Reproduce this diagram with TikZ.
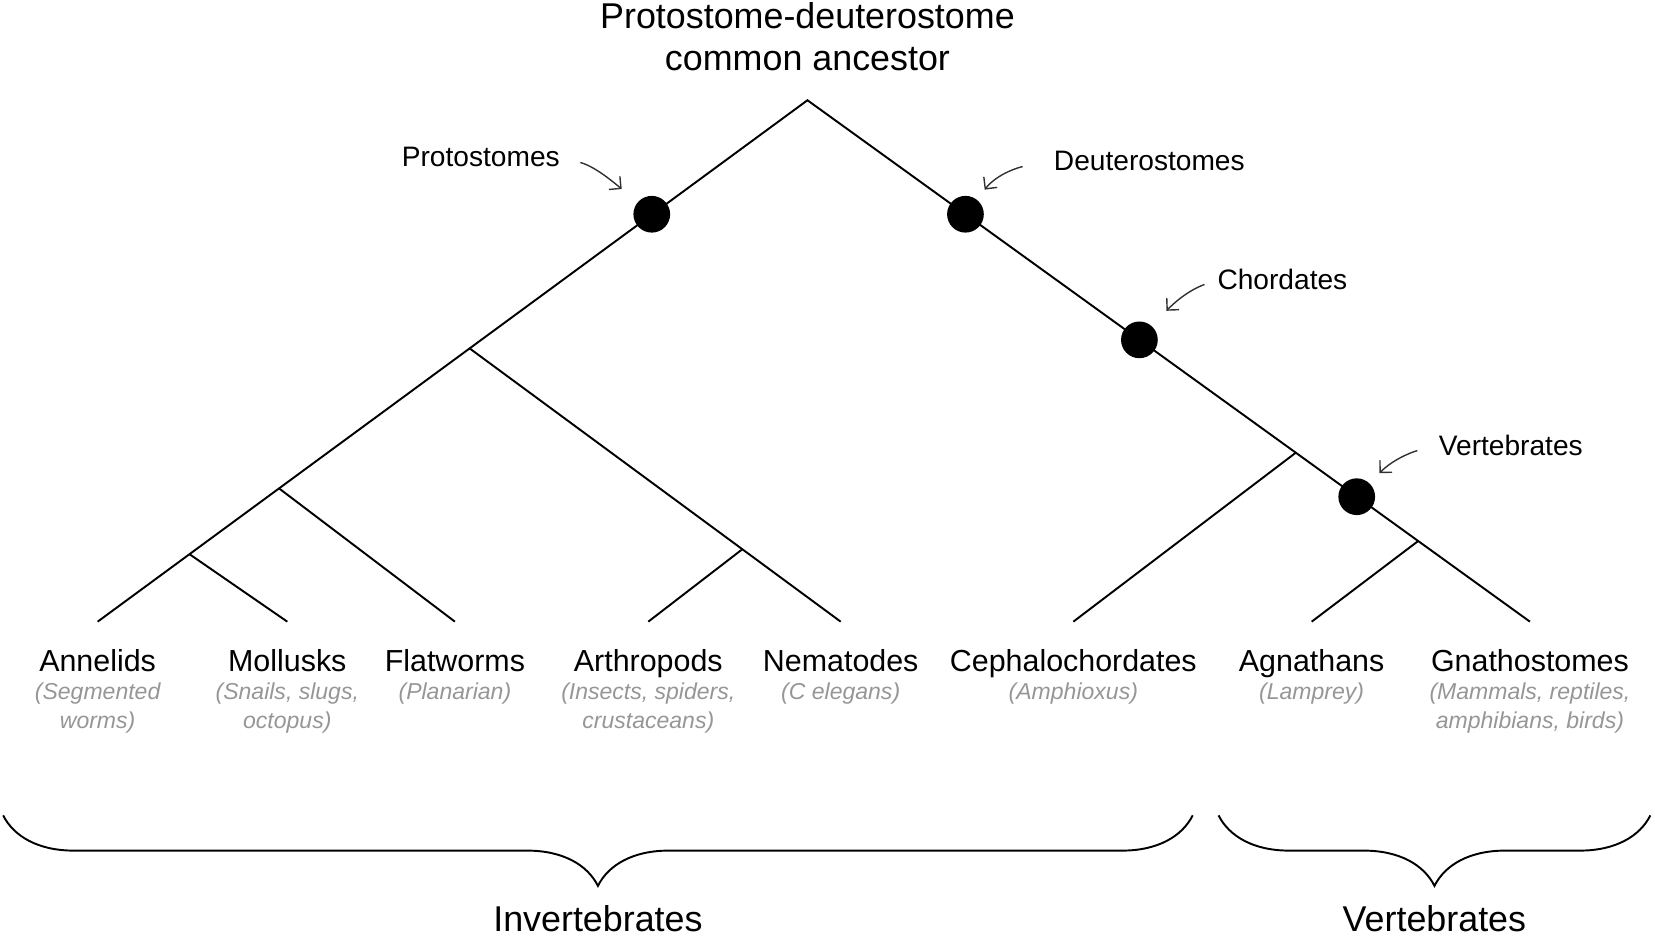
\documentclass[tikz,border=0pt]{standalone}
\usepackage{fontspec}
\setmainfont{Liberation Sans}
\usetikzlibrary{positioning,decorations.pathreplacing,arrows.meta}
\definecolor{kindgray}{RGB}{150,150,150}
\definecolor{pointgray}{RGB}{50,50,50}
\begin{document}
\begin{tikzpicture}[x=0.0211cm,y=0.0211cm,
  branch/.style={line width=1.1pt},
  clade/.style={circle,fill=black,inner sep=0pt,minimum size=0.734cm},
  cladename/.style={font=\fontsize{16}{19}\selectfont,inner sep=0pt,anchor=base},
  pointer/.style={-{Straight Barb[length=1.7mm,width=3.4mm]},line width=0.8pt,draw=pointgray},
  taxon/.style={font=\fontsize{17.3}{21}\selectfont,inner sep=0pt,outer ysep=16.2pt,text height=12pt,text depth=3.5pt,anchor=north},
  kinds/.style={font=\fontsize{13.1}{16.3}\selectfont\itshape,text=kindgray,inner sep=0pt,align=center,below=6.5pt of #1.base},
  group/.style={font=\fontsize{20.4}{24.1}\selectfont,inner sep=0pt},
  groupbrace/.style={decorate,decoration={brace,mirror,amplitude=1.41cm},line width=1.1pt}]
\useasboundingbox (0,0) rectangle (1568,887);

\node[taxon] (annelids) at (92.5,298) {Annelids};
\node[taxon] (mollusks) at (272.2,298) {Mollusks};
\node[taxon] (flatworms) at (431,298) {Flatworms};
\node[taxon] (arthropods) at (614.2,298) {Arthropods};
\node[taxon] (nematodes) at (796.5,298) {Nematodes};
\node[taxon] (cephalo) at (1016.9,298) {Cephalochordates};
\node[taxon] (agnathans) at (1242.7,298) {Agnathans};
\node[taxon] (gnatho) at (1449.5,298) {Gnathostomes};

\node[kinds=annelids] (annelidsEx) {(Segmented\\worms)};
\node[kinds=mollusks] (mollusksEx) {(Snails, slugs,\\octopus)};
\node[kinds=flatworms] (flatwormsEx) {(Planarian)};
\node[kinds=arthropods] (arthropodsEx) {(Insects, spiders,\\crustaceans)};
\node[kinds=nematodes] (nematodesEx) {(C elegans)};
\node[kinds=cephalo] (cephaloEx) {(Amphioxus)};
\node[kinds=agnathans] (agnathansEx) {(Lamprey)};
\node[kinds=gnatho] (gnathoEx) {(Mammals, reptiles,\\amphibians, birds)};

\coordinate (root) at (765,792);
\coordinate (protoSplit) at (444.8,557);
\coordinate (spiralSplit) at (264.2,424.4);
\coordinate (lophoSplit) at (179.3,362.1);
\coordinate (ecdySplit) at (703.3,366.6);
\coordinate (chordSplit) at (1227.7,458.1);
\coordinate (vertSplit) at (1343.6,374.4);

\draw[branch] (annelids.north)--(root)--(gnatho.north);
\draw[branch] (lophoSplit)--(mollusks.north);
\draw[branch] (spiralSplit)--(flatworms.north);
\draw[branch] (protoSplit)--(nematodes.north);
\draw[branch] (ecdySplit)--(arthropods.north);
\draw[branch] (chordSplit)--(cephalo.north);
\draw[branch] (vertSplit)--(agnathans.north);

\node[clade] (protoDot) at (617.5,684) {};
\node[clade] (deutDot) at (914.7,684) {};
\node[clade] (chordDot) at (1079.5,565) {};
\node[clade] (vertDot) at (1285.4,416.4) {};

\node[cladename] (protoLbl) at (455.5,729.1) {Protostomes};
\node[cladename] (deutLbl) at (1088.9,725.3) {Deuterostomes};
\node[cladename] (chordLbl) at (1215,612.3) {Chordates};
\node[cladename] (vertLbl) at (1431.4,455.9) {Vertebrates};

\draw[pointer,shorten <=0.42cm,shorten >=0.41cm] (protoLbl.east) to[out=-15,in=140] (protoDot);
\draw[pointer,shorten <=0.63cm,shorten >=0.25cm] (deutLbl.west) to[out=190,in=52] (deutDot);
\draw[pointer,shorten <=0.27cm,shorten >=0.42cm] (chordLbl.west) to[out=200,in=47] (chordDot);
\draw[pointer,shorten <=0.44cm,shorten >=0.28cm] (vertLbl.west) to[out=195,in=46] (vertDot);

\node[group,align=center,above=16.3pt of root] (ancestor) {Protostome-deuterostome\\common ancestor};

\coordinate (invertL) at (3,114.5);
\coordinate (invertR) at (1130,114.5);
\coordinate (vertL) at (1154.5,114.5);
\coordinate (vertR) at (1563.6,114.5);
\draw[groupbrace] (invertL)--(invertR);
\draw[groupbrace] (vertL)--(vertR);
\node[group,anchor=base] (invert) at (566.5,4.5) {Invertebrates};
\node[group,anchor=base] (vertebr) at (1359,4.5) {Vertebrates};

\end{tikzpicture}
\end{document}
